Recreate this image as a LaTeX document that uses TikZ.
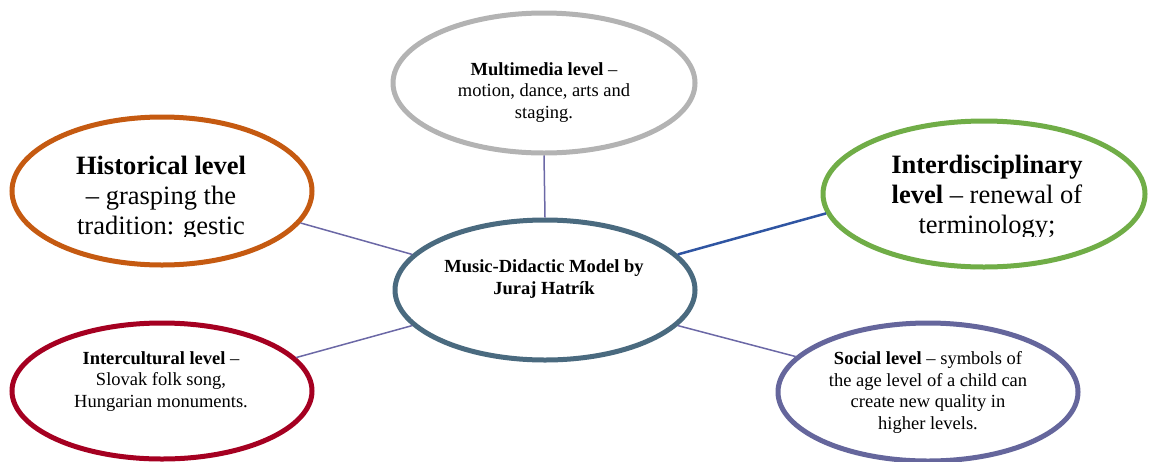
\documentclass[tikz,border=0pt]{standalone}
\usepackage{fontspec}
\setmainfont{Liberation Serif}
\usetikzlibrary{shapes.geometric}
\definecolor{histc}{HTML}{C55A11}
\definecolor{interc}{HTML}{70AD47}
\definecolor{multic}{HTML}{B3B3B3}
\definecolor{cenc}{HTML}{4A6A7F}
\definecolor{intcc}{HTML}{A50021}
\definecolor{socc}{HTML}{65669C}
\definecolor{linkc}{HTML}{6B68A6}
\definecolor{bluelink}{HTML}{2F55A2}
\begin{document}
\begin{tikzpicture}[x=1pt,y=-1pt,
  lvl/.style={ellipse, draw, fill=white, line width=5pt, inner sep=0pt},
  txt/.style={align=center, inner sep=0pt, anchor=base},
  small/.style={font=\fontsize{18.5}{21.5}\selectfont},
  big/.style={font=\fontsize{26.5}{30}\selectfont},
  link/.style={draw=linkc, line width=1.5pt}]
\useasboundingbox (0,0) rectangle (1150,461);
% ellipses
\node[lvl, draw=histc, minimum width=300pt, minimum height=148pt] (hist) at (162,191) {};
\node[lvl, draw=interc, minimum width=322pt, minimum height=146pt] (inter) at (984,194) {};
\node[lvl, draw=multic, minimum width=302pt, minimum height=140pt] (multi) at (544,83) {};
\node[lvl, draw=cenc, minimum width=300pt, minimum height=140pt] (cen) at (545,290) {};
\node[lvl, draw=intcc, minimum width=300pt, minimum height=136pt] (intc) at (162,391) {};
\node[lvl, draw=socc, minimum width=300pt, minimum height=138pt] (soc) at (928,392) {};
% connectors
\draw[link] (cen.90) -- (multi.270);
\draw[link] (cen.165) -- (hist.-13.4);
\draw[link] (cen.195.3) -- (intc.14.2);
\draw[link] (cen.-15.5) -- (soc.165.5);
\draw[draw=bluelink, line width=2.5pt] (cen.15.3) -- (inter.187.3);
% texts (base anchor = baseline of the last line)
\node[txt, small] (multiT) at (544,118) {\textbf{Multimedia level} –\\ motion, dance, arts and\\ staging.};
\node[txt, small] (cenT) at (544,294) {\textbf{Music-Didactic Model by}\\ \textbf{Juraj Hatrík}};
\node[txt, small] (intcT) at (161,407) {\textbf{Intercultural level} –\\ Slovak folk song,\\ Hungarian monuments.};
\node[txt, small] (socT) at (928,429) {\textbf{Social level} – symbols of\\ the age level of a child can\\ create new quality in\\ higher levels.};
\begin{scope}
  \clip (0,0) rectangle (1150,236);
  \node[txt, big] (histT) at (161,234) {\textbf{Historical level}\\ – grasping the\\ tradition: gestic};
  \node[txt, big] (interT) at (987,233) {\textbf{Interdisciplinary}\\ \textbf{level} – renewal of\\ terminology;};
\end{scope}
\end{tikzpicture}
\end{document}
